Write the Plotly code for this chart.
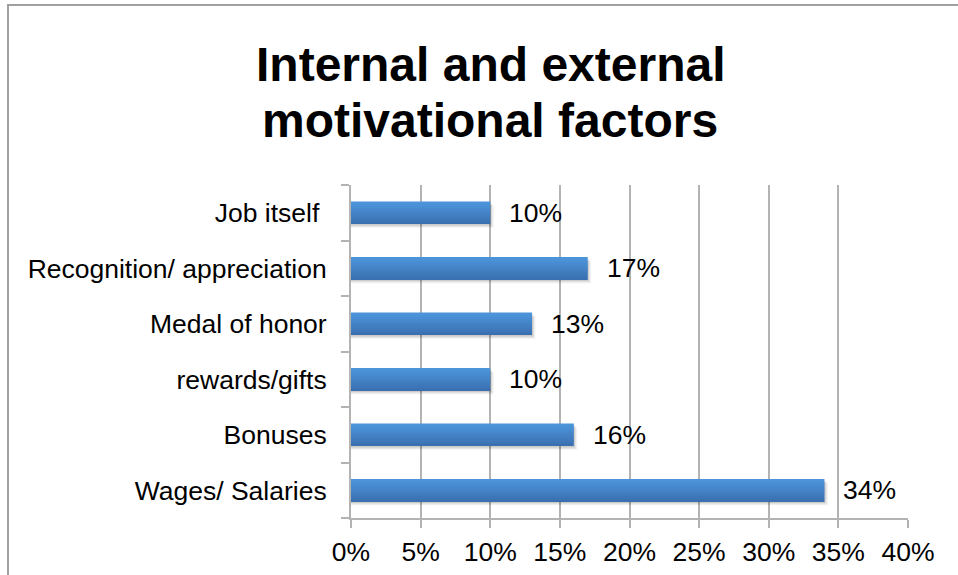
import plotly.graph_objects as go

categories = ["Job itself\u00a0", "Recognition/ appreciation", "Medal of honor",
              "rewards/gifts", "Bonuses", "Wages/ Salaries"]
values = [10, 17, 13, 10, 16, 34]
x_ticks = [0, 5, 10, 15, 20, 25, 30, 35, 40]
x_tick_labels = [f"{t}%" for t in x_ticks]
title_lines = ["Internal and external", "motivational factors"]

W, H = 958, 575
L, R, T, B = 351, 50, 185, 57
pw, ph = W - L - R, H - T - B

def px_to_paper_x(px):
    return (px - L) / pw

def px_to_paper_y(py):
    return (H - B - py) / ph

font = "Liberation Sans, Arial, sans-serif"
BAR_W = 0.4
N_STRIPS = 12
top_rgb = (76, 148, 218)
bot_rgb = (58, 112, 176)

fig = go.Figure()
# soft shadow
for dx, dy, a in [(0.25, -0.07, 0.05), (0.15, -0.05, 0.07), (0.08, -0.03, 0.09)]:
    fig.add_trace(go.Bar(
        y=categories, x=[v + dx for v in values], orientation="h",
        width=BAR_W, offset=-BAR_W / 2 + dy,
        marker=dict(color=f"rgba(0,0,0,{a})", line=dict(width=0)),
        hoverinfo="skip", showlegend=False,
    ))
# gradient strips (bottom -> top)
sw = BAR_W / N_STRIPS
for k in range(N_STRIPS):
    t = k / (N_STRIPS - 1)
    c = tuple(round(b + (tp - b) * t) for b, tp in zip(bot_rgb, top_rgb))
    fig.add_trace(go.Bar(
        y=categories, x=values, orientation="h",
        width=sw * 1.05, offset=-BAR_W / 2 + k * sw,
        marker=dict(color=f"rgb{c}", line=dict(width=0)),
        hoverinfo="skip", showlegend=False,
    ))

annotations = []
for c, v in zip(categories, values):
    annotations.append(dict(
        x=v, y=c, xref="x", yref="y", text=f"{v}%", showarrow=False,
        xanchor="left", yanchor="middle", xshift=17,
        font=dict(family=font, size=26.5, color="#000000"),
    ))
for i, line in enumerate(title_lines):
    annotations.append(dict(
        x=px_to_paper_x(490), y=px_to_paper_y(65 + i * 56), xref="paper", yref="paper",
        text=f"<b>{line}</b>", showarrow=False, xanchor="center", yanchor="middle",
        font=dict(family=font, size=48, color="#000000"),
    ))

x0 = px_to_paper_x(8)
y0 = px_to_paper_y(5)
fig.add_shape(type="path", xref="paper", yref="paper",
              path=f"M {x0} {px_to_paper_y(600)} L {x0} {y0} L {px_to_paper_x(1000)} {y0}",
              line=dict(color="#a0a0a0", width=2))

fig.update_layout(
    width=W, height=H,
    margin=dict(l=L, r=R, t=T, b=B, pad=0),
    paper_bgcolor="white", plot_bgcolor="white",
    barmode="overlay",
    showlegend=False,
    annotations=annotations,
    font=dict(family=font, size=26.5, color="#000000"),
)
fig.update_xaxes(
    range=[0, 40], tickvals=x_ticks, ticktext=x_tick_labels,
    showgrid=True, gridcolor="#b3b3b3", gridwidth=2,
    showline=True, linecolor="#b3b3b3", linewidth=2,
    ticks="outside", ticklen=8, tickcolor="#b3b3b3", tickwidth=2,
    tickfont=dict(family=font, size=26.5, color="#000000"),
    ticklabelstandoff=1,
    zeroline=False, fixedrange=True, automargin=False,
)
fig.update_yaxes(
    categoryorder="array", categoryarray=categories[::-1],
    showline=True, linecolor="#b3b3b3", linewidth=2,
    ticks="outside", ticklen=8, tickcolor="#b3b3b3", tickwidth=2,
    tickson="boundaries", showgrid=False,
    tickfont=dict(family=font, size=26.5, color="#000000"),
    ticklabelstandoff=17,
    fixedrange=True, automargin=False,
)

fig.write_html("out.html", config={"displayModeBar": False},
               post_script="document.body.style.margin='0';document.body.style.overflow='hidden';")
